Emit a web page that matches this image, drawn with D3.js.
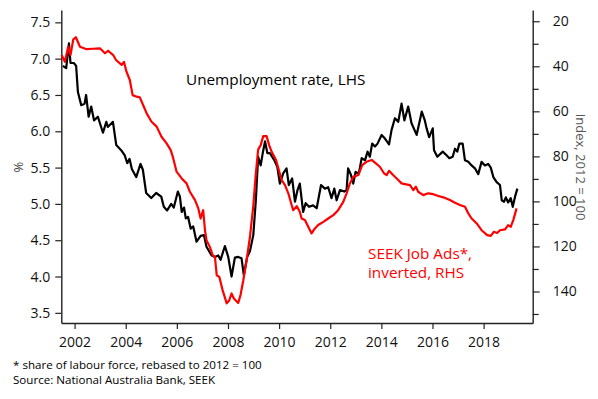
<!DOCTYPE html>
<html>
<head>
<meta charset="utf-8">
<script src="https://cdn.jsdelivr.net/npm/d3@7"></script>
<style>
  body { margin: 0; background: #fff; }
  text { font-family: "Open Sans", sans-serif; }
</style>
</head>
<body>
<div class="canvas"></div>
<script>
// unemployment rate, % (LHS)
const unempDates = [2001.54,2001.67,2001.78,2001.84,2001.97,2002.06,2002.13,2002.26,2002.39,2002.45,2002.55,2002.65,2002.76,2002.91,2003.11,2003.24,2003.30,2003.50,2003.63,2003.82,2003.96,2004.06,2004.15,2004.24,2004.41,2004.58,2004.67,2004.80,2005.00,2005.19,2005.39,2005.49,2005.62,2005.78,2005.88,2006.04,2006.12,2006.19,2006.28,2006.35,2006.44,2006.54,2006.64,2006.77,2006.93,2007.06,2007.16,2007.36,2007.49,2007.62,2007.71,2007.88,2008.01,2008.14,2008.27,2008.40,2008.53,2008.62,2008.75,2008.86,2008.99,2009.09,2009.18,2009.28,2009.36,2009.45,2009.54,2009.64,2009.80,2009.93,2010.03,2010.16,2010.29,2010.38,2010.51,2010.62,2010.72,2010.81,2010.94,2011.04,2011.17,2011.33,2011.47,2011.64,2011.79,2011.92,2012.05,2012.16,2012.25,2012.38,2012.55,2012.64,2012.70,2012.81,2012.90,2012.99,2013.12,2013.23,2013.36,2013.46,2013.55,2013.64,2013.75,2013.85,2014.01,2014.14,2014.30,2014.40,2014.53,2014.66,2014.79,2014.90,2015.05,2015.18,2015.38,2015.58,2015.70,2015.77,2015.87,2016.01,2016.06,2016.19,2016.40,2016.55,2016.66,2016.79,2016.88,2016.97,2017.05,2017.18,2017.27,2017.40,2017.53,2017.66,2017.79,2017.92,2018.05,2018.18,2018.28,2018.38,2018.51,2018.64,2018.71,2018.80,2018.87,2018.96,2019.06,2019.14,2019.23,2019.32];
const unempRate = [6.90,6.87,7.21,6.94,6.94,6.90,6.54,6.36,6.38,6.50,6.20,6.34,6.15,6.20,5.98,6.13,6.06,6.13,5.81,5.74,5.67,5.56,5.62,5.48,5.37,5.55,5.47,5.15,5.08,5.15,5.10,4.96,4.91,5.00,4.95,5.17,5.10,4.89,4.95,4.80,4.82,4.66,4.69,4.48,4.56,4.57,4.41,4.29,4.27,4.29,4.23,4.42,4.27,4.00,4.26,4.27,4.25,4.02,4.27,4.35,4.57,5.05,5.65,5.53,5.70,5.86,5.70,5.70,5.61,5.51,5.28,5.42,5.49,5.26,5.35,5.03,5.19,5.28,4.89,5.01,4.96,4.98,4.94,5.26,5.21,5.23,5.08,5.21,5.05,5.19,5.17,5.19,5.49,5.40,5.28,5.44,5.42,5.63,5.60,5.72,5.65,5.83,5.79,5.83,5.95,5.90,5.82,6.02,6.18,6.13,6.38,6.15,6.34,6.11,5.95,6.27,6.15,6.04,5.92,6.04,5.74,5.65,5.72,5.67,5.63,5.65,5.76,5.72,5.83,5.83,5.60,5.58,5.53,5.49,5.41,5.58,5.53,5.55,5.50,5.37,5.30,5.26,5.05,5.03,5.09,5.02,5.08,4.96,5.10,5.21];

// SEEK job ads, index 2012 = 100, inverted (RHS)
const seekDates = [2001.49,2001.62,2001.75,2001.84,2001.95,2002.05,2002.21,2002.47,2002.72,2002.99,2003.19,2003.31,2003.51,2003.62,2003.84,2003.93,2004.03,2004.16,2004.27,2004.43,2004.55,2004.68,2004.82,2005.01,2005.21,2005.40,2005.60,2005.76,2005.86,2005.99,2006.19,2006.38,2006.51,2006.71,2006.84,2006.93,2007.03,2007.10,2007.16,2007.29,2007.40,2007.49,2007.56,2007.66,2007.79,2007.95,2008.05,2008.14,2008.23,2008.40,2008.49,2008.60,2008.73,2008.86,2008.99,2009.09,2009.18,2009.28,2009.38,2009.51,2009.61,2009.71,2009.88,2009.97,2010.10,2010.23,2010.36,2010.49,2010.55,2010.69,2010.81,2010.88,2011.01,2011.14,2011.27,2011.40,2011.53,2011.73,2011.92,2012.12,2012.31,2012.51,2012.64,2012.77,2012.90,2013.10,2013.25,2013.42,2013.62,2013.75,2013.94,2014.11,2014.21,2014.30,2014.46,2014.66,2014.79,2014.92,2015.12,2015.25,2015.35,2015.44,2015.64,2015.83,2016.03,2016.23,2016.42,2016.68,2016.88,2017.07,2017.27,2017.40,2017.53,2017.73,2017.92,2018.14,2018.28,2018.40,2018.53,2018.64,2018.84,2018.96,2019.06,2019.16,2019.29];
const seekIndex = [35.0,38.0,31.3,35.0,28.0,27.1,31.3,32.4,32.2,32.0,34.2,33.1,35.0,37.2,39.4,38.0,42.4,46.1,52.8,53.5,53.8,57.2,60.9,64.6,66.8,71.3,74.2,77.2,80.9,86.8,89.8,92.0,95.7,99.4,103.1,107.6,103.9,112.8,117.2,120.2,123.9,124.6,132.8,133.5,139.4,145.3,143.9,140.9,143.1,145.1,141.6,135.0,126.1,115.7,102.0,87.6,77.0,75.0,71.0,71.0,75.0,78.0,81.6,85.3,90.5,92.8,96.4,101.6,103.9,102.1,104.6,107.6,108.3,111.3,114.2,112.0,110.5,109.1,107.6,106.1,103.9,100.2,96.4,92.0,89.1,88.3,83.9,82.4,81.6,82.8,84.6,87.6,88.3,86.4,88.3,90.5,92.0,92.3,92.8,95.0,93.5,95.7,97.2,96.4,96.8,97.6,98.2,99.4,100.6,101.6,102.4,105.3,107.6,109.8,112.8,115.0,115.3,113.5,114.0,112.8,112.4,110.5,111.3,108.3,103.1];

const yearTicks = [2002,2004,2006,2008,2010,2012,2014,2016,2018];
const leftTicks = [3.5,4.0,4.5,5.0,5.5,6.0,6.5,7.0,7.5];
const rightTicks = [20,40,60,80,100,120,140];
const rightMinor = [30,50,70,90,110,130,150];

const svg = d3.select('.canvas')
  .append('svg')
  .attr('width', 598)
  .attr('height', 399);

const margin = {top: 10, right: 65.3, bottom: 76, left: 61.3};
const graphWidth = 598 - margin.left - margin.right;
const graphHeight = 399 - margin.top - margin.bottom;

const graph = svg.append('g')
  .attr('transform', `translate(${margin.left},${margin.top})`);

const x = d3.scaleLinear()
  .domain([2001.48, 2019.92])
  .range([0, graphWidth]);
const yLeft = d3.scaleLinear()
  .domain([3.36, 7.67])
  .range([graphHeight, 0]);
// inverted index scale
const yRight = d3.scaleLinear()
  .domain([15, 154])
  .range([0, graphHeight]);

// axes
const styleAxis = g => {
  g.selectAll('path').attr('stroke', '#222').attr('stroke-width', 1.4);
  g.selectAll('line').attr('stroke', '#222').attr('stroke-width', 1.2);
  g.selectAll('text').attr('font-size', '14px').attr('fill', '#111')
    .attr('font-family', '"Open Sans", sans-serif');
};

graph.append('g')
  .call(d3.axisLeft(yLeft).tickValues(leftTicks).tickFormat(d3.format('.1f'))
    .tickSizeInner(6).tickSizeOuter(0).tickPadding(5))
  .call(styleAxis);

graph.append('g')
  .attr('transform', `translate(${graphWidth},0)`)
  .call(d3.axisRight(yRight).tickValues(rightTicks)
    .tickSizeInner(7).tickSizeOuter(0).tickPadding(13))
  .call(styleAxis);

graph.append('g')
  .attr('transform', `translate(${graphWidth},0)`)
  .call(d3.axisRight(yRight).tickValues(rightMinor).tickFormat('')
    .tickSizeInner(6).tickSizeOuter(0))
  .call(styleAxis)
  .select('.domain').remove();

graph.append('g')
  .attr('transform', `translate(0,${graphHeight})`)
  .call(d3.axisBottom(x).tickValues(yearTicks).tickFormat(d3.format('d'))
    .tickSizeInner(6).tickSizeOuter(0).tickPadding(8))
  .call(styleAxis);

// lines
const unempLine = d3.line()
  .x((d, i) => x(unempDates[i]))
  .y(d => yLeft(d));
const seekLine = d3.line()
  .x((d, i) => x(seekDates[i]))
  .y(d => yRight(d));

graph.append('path')
  .attr('d', unempLine(unempRate))
  .attr('fill', 'none')
  .attr('stroke', '#000')
  .attr('stroke-width', 2.2)
  .attr('stroke-linejoin', 'round');

graph.append('path')
  .attr('d', seekLine(seekIndex))
  .attr('fill', 'none')
  .attr('stroke', '#ff0000')
  .attr('stroke-width', 2.2)
  .attr('stroke-linejoin', 'round');

// axis titles
svg.append('text')
  .attr('transform', 'translate(23,167) rotate(-90)')
  .attr('text-anchor', 'middle')
  .attr('font-size', '13px')
  .attr('fill', '#444')
  .text('%');

svg.append('text')
  .attr('transform', 'translate(576,167) rotate(90)')
  .attr('text-anchor', 'middle')
  .attr('font-size', '13px')
  .attr('fill', '#555')
  .text('Index, 2012 = 100');

// series labels
svg.append('text')
  .attr('x', 186)
  .attr('y', 85)
  .attr('font-size', '15.3px')
  .attr('fill', '#000')
  .text('Unemployment rate, LHS');

svg.append('text')
  .attr('x', 368)
  .attr('y', 259)
  .attr('font-size', '15.3px')
  .attr('fill', '#ff0000')
  .text('SEEK Job Ads*,');

svg.append('text')
  .attr('x', 368)
  .attr('y', 278)
  .attr('font-size', '15.3px')
  .attr('fill', '#ff0000')
  .text('inverted, RHS');

// notes
svg.append('text')
  .attr('x', 13)
  .attr('y', 369)
  .attr('font-size', '11.6px')
  .attr('fill', '#000')
  .text('* share of labour force, rebased to 2012 = 100');

svg.append('text')
  .attr('x', 13)
  .attr('y', 384)
  .attr('font-size', '11.6px')
  .attr('fill', '#000')
  .text('Source: National Australia Bank, SEEK');
</script>
</body>
</html>
